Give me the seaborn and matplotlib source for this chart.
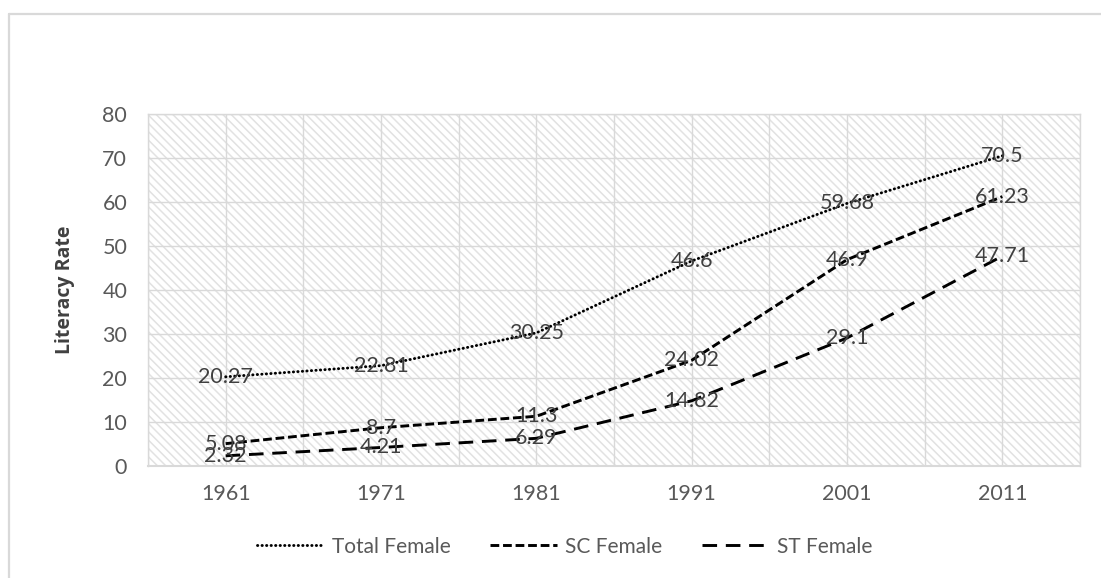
import matplotlib
matplotlib.use("Agg")
import matplotlib.pyplot as plt
import seaborn as sns
import pandas as pd
from matplotlib.patches import Rectangle
from matplotlib.lines import Line2D

years = ["1961", "1971", "1981", "1991", "2001", "2011"]
total_female = [20.27, 22.81, 30.25, 46.6, 59.68, 70.5]
sc_female = [5.08, 8.7, 11.3, 24.02, 46.9, 61.23]
st_female = [2.32, 4.21, 6.29, 14.82, 29.1, 47.71]
series_names = ["Total Female", "SC Female", "ST Female"]
y_ticks = [0, 10, 20, 30, 40, 50, 60, 70, 80]

sns.set_style("white")
plt.rcParams["font.family"] = ["Lato", "DejaVu Sans"]
plt.rcParams["hatch.linewidth"] = 1.1

fig = plt.figure(figsize=(11.01, 5.78), dpi=100)
ax = fig.add_axes([148 / 1101, 1 - 466 / 578, (1080 - 148) / 1101, (466 - 114) / 578])

bg = Rectangle((0, 0), 1, 1, transform=ax.transAxes, facecolor="white",
               edgecolor="#e2e2e2", hatch="\\\\\\\\", linewidth=0, zorder=0)
ax.add_patch(bg)

styles = {
    "Total Female": dict(linestyle=(0, (0.1, 1.45)), dash_capstyle="round"),
    "SC Female": dict(linestyle=(0, (3.0, 1.3)), dash_capstyle="butt"),
    "ST Female": dict(linestyle=(0, (5.0, 3.0)), dash_capstyle="butt"),
}
data = {"Total Female": total_female, "SC Female": sc_female, "ST Female": st_female}
pos = list(range(len(years)))

for name in series_names:
    df = pd.DataFrame({"x": pos, "y": data[name]})
    sns.lineplot(data=df, x="x", y="y", ax=ax, color="black", linewidth=2.1,
                 label=name, zorder=3, **styles[name])
    for xi, yi in zip(pos, data[name]):
        ax.text(xi, yi, f"{yi:g}", ha="center", va="center", fontsize=15.5,
                color="#404040", zorder=4)

ax.set_xlim(-0.5, len(years) - 0.5)
ax.set_ylim(0, 80)
ax.set_yticks(y_ticks)
ax.set_yticklabels([str(t) for t in y_ticks])
ax.set_xticks(pos)
ax.set_xticklabels(years)
ax.set_xticks([p / 2 - 0.5 for p in range(0, 2 * len(years) + 1)], minor=True)
ax.tick_params(axis="both", which="both", length=0, labelsize=15.5, colors="#595959")
ax.tick_params(axis="y", pad=15)
ax.tick_params(axis="x", pad=13)
ax.grid(True, which="both", axis="x", color="#d9d9d9", linewidth=1.0)
ax.grid(True, which="major", axis="y", color="#d9d9d9", linewidth=1.0)
ax.set_axisbelow(True)
for side, sp in ax.spines.items():
    sp.set_visible(True)
    sp.set_color("#d9d9d9")
    sp.set_linewidth(1.0)
ax.spines["bottom"].set_linewidth(1.5)

ax.set_xlabel("")
ax.set_ylabel("Literacy Rate", fontsize=14, fontweight="bold", color="#404040",
              family=["Open Sans", "DejaVu Sans"])
ax.yaxis.set_label_coords(-0.078, 0.5)

ax.get_legend().remove()
handles, labels = ax.get_legend_handles_labels()
leg = fig.legend(handles, labels, loc="center", bbox_to_anchor=(0.513, 0.054), ncol=3,
                 frameon=False, fontsize=15, handlelength=3.2, handletextpad=0.4,
                 columnspacing=1.9, labelcolor="#595959")

fig.add_artist(Line2D([9 / 1101, 9 / 1101], [0, 1 - 14 / 578], transform=fig.transFigure,
                      color="#d9d9d9", linewidth=1.6))
fig.add_artist(Line2D([9 / 1101, 1], [1 - 14 / 578, 1 - 14 / 578], transform=fig.transFigure,
                      color="#d9d9d9", linewidth=1.6))

fig.savefig("out.png", dpi=100)
